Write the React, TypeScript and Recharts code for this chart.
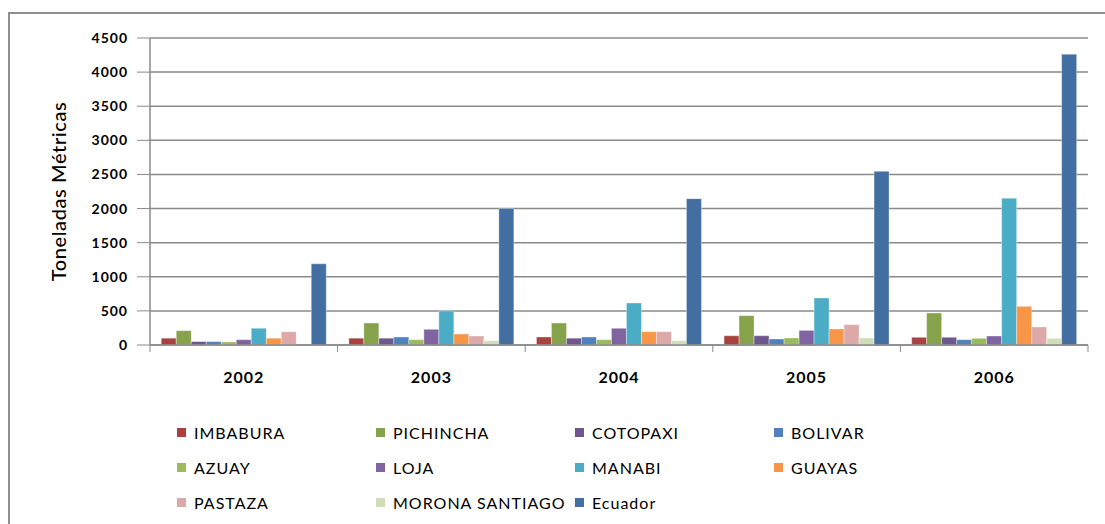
import React from 'react';
import { BarChart, Bar, XAxis, YAxis, CartesianGrid, Legend } from 'recharts';

// production by province, metric tonnes
const years = ['2002', '2003', '2004', '2005', '2006'];
const imbabura = [100, 100, 117, 136, 113];
const pichincha = [210, 322, 322, 430, 469];
const cotopaxi = [50, 100, 100, 136, 113];
const bolivar = [50, 117, 117, 88, 78];
const azuay = [45, 78, 78, 103, 98];
const loja = [78, 230, 245, 214, 132];
const manabi = [245, 500, 616, 689, 2150];
const guayas = [100, 161, 195, 235, 567];
const pastaza = [195, 132, 195, 298, 264];
const moronaSantiago = [0, 63, 63, 103, 98];
const ecuador = [1190, 2000, 2145, 2545, 4262];
const yTicks = [0, 500, 1000, 1500, 2000, 2500, 3000, 3500, 4000, 4500];

const series = [
    { key: 'imbabura', name: 'IMBABURA', values: imbabura, color: '#A8423F' },
    { key: 'pichincha', name: 'PICHINCHA', values: pichincha, color: '#86A24B' },
    { key: 'cotopaxi', name: 'COTOPAXI', values: cotopaxi, color: '#6E568E' },
    { key: 'bolivar', name: 'BOLIVAR', values: bolivar, color: '#4F81BD' },
    { key: 'azuay', name: 'AZUAY', values: azuay, color: '#9BBB59' },
    { key: 'loja', name: 'LOJA', values: loja, color: '#8064A2' },
    { key: 'manabi', name: 'MANABI', values: manabi, color: '#4BACC6' },
    { key: 'guayas', name: 'GUAYAS', values: guayas, color: '#F79646' },
    { key: 'pastaza', name: 'PASTAZA', values: pastaza, color: '#DDA9A8' },
    { key: 'morona', name: 'MORONA SANTIAGO', values: moronaSantiago, color: '#D0DEB8' },
    { key: 'ecuador', name: 'Ecuador', values: ecuador, color: '#436EA1' },
];

const chartData = years.map((year, i) => {
    const row: Record<string, string | number> = { year };
    series.forEach(s => { row[s.key] = s.values[i]; });
    return row;
});

const FONT = 'Lato, "Open Sans", sans-serif';
const AXIS_GRAY = '#8a8a8a';

// category label + boundary tick marks like Excel
const YearTick = (props: any) => {
    const { x, y, payload, index, visibleTicksCount } = props;
    const half = payload.offset ?? 93.8;
    return (
        <g>
            <line x1={x - half} x2={x - half} y1={y} y2={y + 7} stroke={AXIS_GRAY} />
            {index === visibleTicksCount - 1 && (
                <line x1={x + half} x2={x + half} y1={y} y2={y + 7} stroke={AXIS_GRAY} />
            )}
            <text x={x} y={y + 38} textAnchor="middle" fontFamily={FONT} fontWeight="bold" fontSize={16} letterSpacing={1} fill="#000">
                {payload.value}
            </text>
        </g>
    );
};

const YTitle = (props: any) => {
    const { viewBox } = props;
    const cx = viewBox.x + 58;
    const cy = viewBox.y + viewBox.height / 2;
    return (
        <text x={cx} y={cy} transform={`rotate(-90 ${cx} ${cy})`} textAnchor="middle" dominantBaseline="central"
            fontFamily={FONT} fontSize={20} fontWeight={500} letterSpacing={0.6} fill="#000">
            Toneladas Métricas
        </text>
    );
};

// keep the series order (Excel lists them row by row)
const LegendGrid = () => (
    <div style={{ display: 'grid', gridTemplateColumns: 'repeat(4, 199px)', fontFamily: FONT, fontSize: 16, letterSpacing: 1, color: '#000' }}>
        {series.map(s => (
            <div key={s.key} style={{ display: 'flex', alignItems: 'center', height: 35, whiteSpace: 'nowrap' }}>
                <span style={{ width: 9, height: 9, background: s.color, marginRight: 8, flexShrink: 0 }} />
                <span>{s.name}</span>
            </div>
        ))}
    </div>
);

export default function App() {
    return (
        <div style={{ position: 'absolute', left: 0, top: 0, width: 1105, height: 524, background: '#fff', overflow: 'hidden' }}>
            <div style={{ position: 'absolute', left: 8, top: 12, width: 1120, height: 540, borderLeft: '2px solid #8e8e8e', borderTop: '2px solid #8e8e8e' }} />
            <BarChart
                width={1105}
                height={524}
                data={chartData}
                margin={{ top: 38, right: 17, left: 0, bottom: 129 }}
                barCategoryGap="6%"
                barGap={0}
                style={{ position: 'absolute', left: 0, top: 0 }}
            >
                <CartesianGrid vertical={false} stroke={AXIS_GRAY} strokeWidth={1.5} />
                <XAxis
                    dataKey="year"
                    height={50}
                    tickSize={0}
                    tickMargin={0}
                    tick={<YearTick />}
                    axisLine={{ stroke: AXIS_GRAY, strokeWidth: 1.5 }}
                    tickLine={false}
                />
                <YAxis
                    width={150}
                    domain={[0, 4500]}
                    ticks={yTicks}
                    interval={0}
                    tickSize={13}
                    tickMargin={9}
                    tick={{ fontFamily: FONT, fontWeight: 'bold', fontSize: 14, fill: '#000', letterSpacing: 1 }}
                    axisLine={{ stroke: AXIS_GRAY, strokeWidth: 1.5 }}
                    tickLine={{ stroke: AXIS_GRAY }}
                    label={{ content: <YTitle /> }}
                />
                <Legend
                    layout="horizontal"
                    verticalAlign="middle"
                    content={<LegendGrid />}
                    wrapperStyle={{ left: 177, top: 415, width: 820, height: 110 }}
                />
                {series.map(s => (
                    <Bar
                        key={s.key}
                        dataKey={s.key}
                        name={s.name}
                        fill={s.color}
                        stroke="#ffffff"
                        strokeOpacity={0.35}
                        strokeWidth={1}
                        isAnimationActive={false}
                    />
                ))}
            </BarChart>
        </div>
    );
}
